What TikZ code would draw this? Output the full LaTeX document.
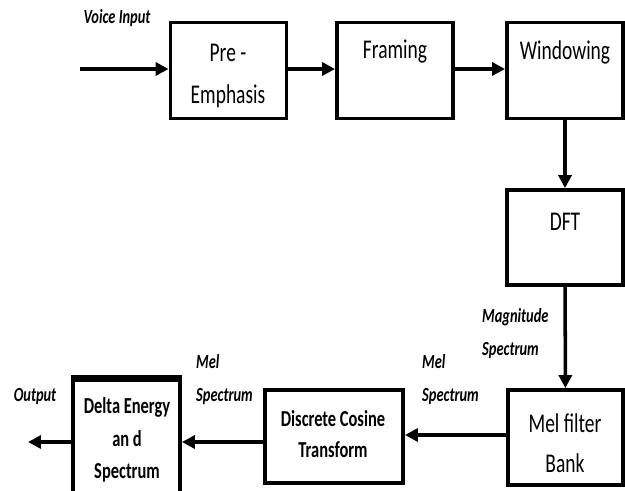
\documentclass[tikz,border=0pt]{standalone}
\usepackage{fontspec}
\setmainfont{Carlito}[FakeStretch=0.72]
\usetikzlibrary{arrows.meta}

\begin{document}
\begin{tikzpicture}[x=0.02cm,y=-0.02cm,
  block/.style={draw,line width=2.2pt,minimum width=116*0.02cm,minimum height=96*0.02cm,inner sep=0pt},
  txt/.style={align=center,font=\fontsize{15.4}{23.5}\selectfont},
  btxt/.style={align=center,font=\bfseries\fontsize{13}{18.4}\selectfont},
  lbl/.style={align=left,font=\bfseries\itshape\fontsize{11.4}{19}\selectfont},
  arr/.style={-{Triangle[length=0.26cm,width=0.26cm]},line width=2pt}]
  \useasboundingbox (0,0) rectangle (625,490);
  \clip (0,0) rectangle (625,490);

  \node[block] (1) at (228.5,70.5) {}; % Pre-Emphasis
  \node[block] (2) at (395,70.5) {}; % Framing
  \node[block] (3) at (565,70.5) {}; % Windowing
  \node[block,minimum height=95*0.02cm] (4) at (565,237.5) {}; % DFT
  \node[block,minimum width=115*0.02cm,minimum height=95*0.02cm] (5) at (565.5,437.5) {}; % Mel filter bank
  \node[block,minimum width=138*0.02cm,minimum height=93*0.02cm] (6) at (334,436.5) {}; % DCT
  \node[block,minimum width=107*0.02cm,minimum height=120*0.02cm] (7) at (126.5,440) {}; % Delta energy
  \coordinate (in) at (80,69);
  \coordinate (out) at (28,442);

  \node[txt] (t1) at (228,76) {Pre -\\Emphasis};
  \node[txt] (t2) at (395,52) {Framing};
  \node[txt] (t3) at (565,52) {Windowing};
  \node[txt] (t4) at (565,222) {DFT};
  \node[txt,font=\fontsize{15.4}{22.7}\selectfont] (t5) at (565,443) {Mel filter\\Bank};
  \node[btxt,font=\bfseries\fontsize{13}{18}\selectfont] (t6) at (333,434) {Discrete Cosine\\Transform};
  \node[btxt] (t7) at (127,440) {Delta Energy\\an d\\Spectrum};

  \node[lbl] (l1) at (117,18) {Voice Input};
  \node[lbl,anchor=west,font=\bfseries\itshape\fontsize{11.4}{18.7}\selectfont] (l2) at (476,333.5) {Magnitude\\Spectrum};
  \node[lbl,anchor=west] (l3) at (416,379.5) {Mel\\Spectrum};
  \node[lbl,anchor=west] (l4) at (190,379.5) {Mel\\Spectrum};
  \node[lbl] (l5) at (35,397) {Output};

  % heavier top edge of the last block
  \draw[line width=3.2pt] (7.north west) -- (7.north east);

  \draw[arr] (in) -- (in -| 1.west);
  \draw[arr] (1.east |- in) -- (2.west |- in);
  \draw[arr] (2.east |- in) -- (3.west |- in);
  \draw[arr] (3) -- (4);
  \draw[arr] (4) -- (5);
  \draw[arr] (5.west |- 0,435) -- (6.east |- 0,435);
  \draw[arr] (6.west |- out) -- (7.east |- out);
  \draw[arr] (7.west |- out) -- (out);

\end{tikzpicture}
\end{document}
